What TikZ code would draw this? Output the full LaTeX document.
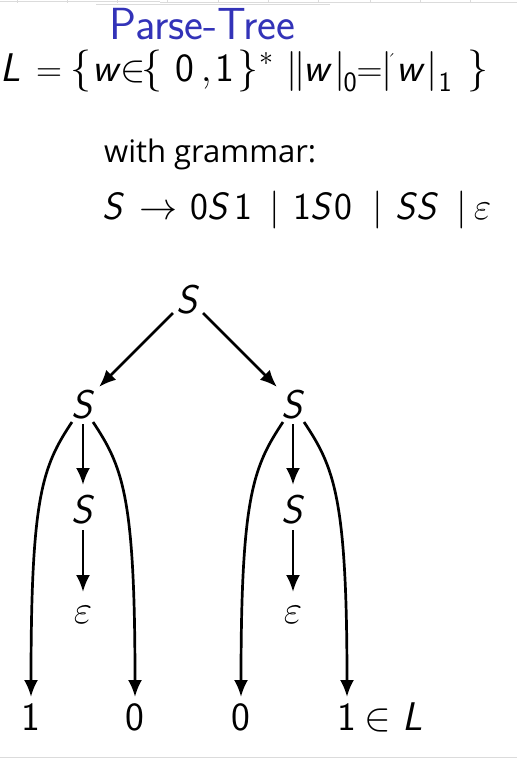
\RequirePackage{fix-cm}
\documentclass[tikz,border=0pt]{standalone}
\usepackage{amsmath}
\usepackage{fontspec}
\usetikzlibrary{arrows.meta}
\newfontfamily\osans{Open Sans}
\newcommand\sv[1]{\textsf{\slshape #1}}
\newcommand\sd[1]{\textsf{#1}}
% place content centred at x (pt) from the start of the line, zero width
\newcommand\putc[2]{\makebox[0pt][l]{\hspace*{#1pt}\makebox[0pt][c]{#2}}}
\newcommand\fs[1]{\fontsize{#1}{#1}\selectfont}
\definecolor{titleblue}{rgb}{0.2,0.2,0.72}
\definecolor{faint}{gray}{0.86}
\begin{document}
\begin{tikzpicture}[x=1pt,y=-1pt,
  lbl/.style={inner sep=0pt,anchor=base,font=\fontsize{40}{48}\selectfont},
  arr/.style={line width=2.7pt,-{Latex[length=17pt,width=14pt]}},
  guide/.style={draw=faint,line width=0.8pt}]
\useasboundingbox (0,0) rectangle (517,761);
% faint page artefacts
\draw[guide] (0,1) -- (160,1);
\draw[guide] (160,2) -- (517,2);
\draw[guide] (96,4.5) -- (330,4.5);
\foreach \x in {17,67,117,167,218,268,318,370,420,470} \draw[guide] (\x,0) -- (\x,3);
\draw[guide] (0,757) -- (517,757);
% headings
\node[inner sep=0pt,anchor=base west,text=titleblue,font=\fontsize{45}{54}\selectfont\sffamily] (title) at (109,39) {Parse-Tree};
\node[inner sep=0pt,anchor=base west,font=\fs{40}] (lang) at (0,81) {%
\putc{10}{\sv{L}}%
\putc{49}{\fs{36}$=$}%
\putc{80.5}{\fs{42}$\{$}%
\putc{107}{\sv{w}}%
\putc{133}{\fs{38}$\in$}%
\putc{151.5}{\fs{42}$\{$}%
\putc{185}{\sd{0}}%
\putc{206}{$,$}%
\putc{225}{\sd{1}}%
\putc{247.5}{\fs{42}$\}$}%
\putc{266}{\raisebox{16pt}{\fs{28}$\ast$}}%
\putc{292}{$|$}%
\putc{300}{$|$}%
\putc{318}{\sv{w}}%
\putc{340}{$|$}%
\putc{350}{\raisebox{-10pt}{\fs{28}\sd{0}}}%
\putc{369.5}{\fs{36}$=$}%
\putc{387}{$|$}%
\putc{391}{\raisebox{14pt}{\fs{20}\symbol{"00B4}}}%
\putc{411}{\sv{w}}%
\putc{432}{$|$}%
\putc{445}{\raisebox{-10pt}{\fs{28}\sd{1}}}%
\putc{478}{\fs{42}$\}$}%
\hspace*{490pt}};
\node[inner sep=0pt,anchor=base west,font=\fontsize{31}{37}\selectfont\osans] (with) at (104,162) {with grammar:};
\node[inner sep=0pt,anchor=base west,font=\fs{38}] (gram) at (0,219) {%
\putc{113}{\sv{S}}%
\putc{158.5}{$\to$}%
\putc{199.5}{\sd{0}}%
\putc{218}{\sv{S}}%
\putc{243.5}{\sd{1}}%
\putc{275}{$|$}%
\putc{302.5}{\sd{1}}%
\putc{321}{\sv{S}}%
\putc{343.5}{\sd{0}}%
\putc{378}{$|$}%
\putc{406}{\sv{S}}%
\putc{427}{\sv{S}}%
\putc{462}{$|$}%
\putc{482.5}{$\varepsilon$}%
\hspace*{497pt}};
% tree nodes
\node[lbl] (root) at (188,313) {\sv{S}};
\node[lbl] (Sl) at (83,418) {\sv{S}};
\node[lbl] (Sr) at (293,418) {\sv{S}};
\node[lbl] (Sl2) at (83,523) {\sv{S}};
\node[lbl] (Sr2) at (293,523) {\sv{S}};
\node[lbl] (el) at (83,623) {$\varepsilon$};
\node[lbl] (er) at (293,623) {$\varepsilon$};
\node[lbl] (b1) at (31,730) {\sd{1}};
\node[lbl] (b2) at (135,730) {\sd{0}};
\node[lbl] (b3) at (241,730) {\sd{0}};
\node[lbl] (b4) at (347,730) {\sd{1}};
\node[lbl,anchor=base west] (inL) at (364,730) {$\in$ \sv{L}};
% connectors
\draw[arr] ([shift={(-15,0)}]root.base) -- ([shift={(16,-31)}]Sl.base);
\draw[arr] ([shift={(15,0)}]root.base) -- ([shift={(-16,-31)}]Sr.base);
\draw[arr] ([shift={(0,6)}]Sl.base) -- ([shift={(0,-38)}]Sl2.base);
\draw[arr] ([shift={(0,6)}]Sr.base) -- ([shift={(0,-38)}]Sr2.base);
\draw[arr] ([shift={(0,7)}]Sl2.base) -- ([shift={(0,-31)}]el.base);
\draw[arr] ([shift={(0,7)}]Sr2.base) -- ([shift={(0,-31)}]er.base);
\draw[arr] ([shift={(-11,4)}]Sl.base) .. controls +(-30,45) and +(0,-200) .. ([shift={(0,-33)}]b1.base);
\draw[arr] ([shift={(10,4)}]Sl.base) .. controls +(30,45) and +(0,-200) .. ([shift={(0,-33)}]b2.base);
\draw[arr] ([shift={(-10,4)}]Sr.base) .. controls +(-30,45) and +(0,-200) .. ([shift={(0,-33)}]b3.base);
\draw[arr] ([shift={(11,4)}]Sr.base) .. controls +(30,45) and +(0,-200) .. ([shift={(0,-33)}]b4.base);
\end{tikzpicture}
\end{document}
